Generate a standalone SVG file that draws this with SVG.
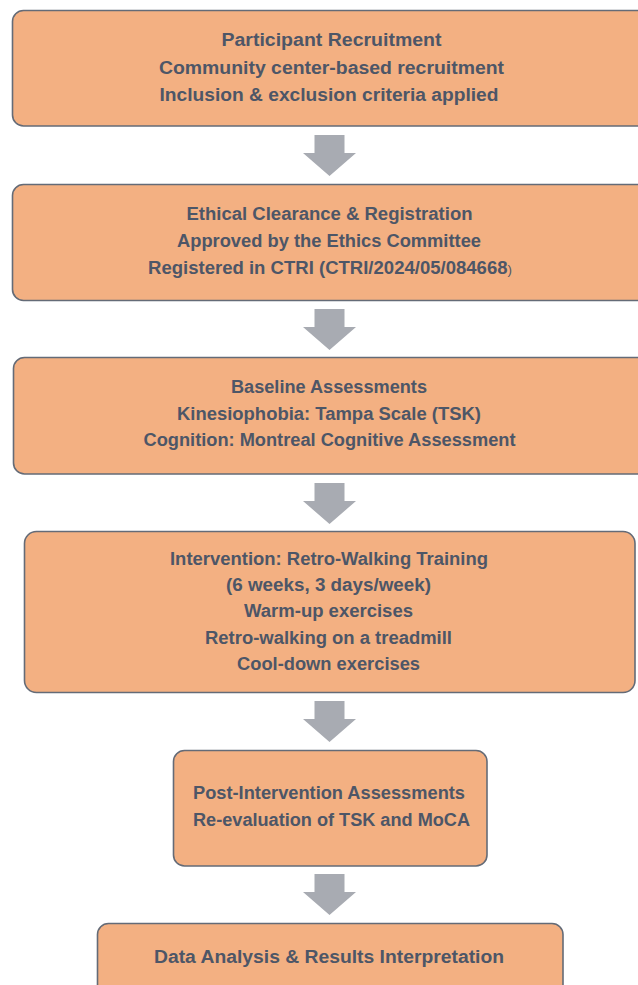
<svg xmlns="http://www.w3.org/2000/svg" width="638" height="985" viewBox="0 0 638 985">
  <style>
    .box { fill: #F3B082; stroke: #646B77; stroke-width: 1.6; }
    .lbl { font-family: "Liberation Sans", Arial, sans-serif; font-weight: bold; font-size: 18px; fill: #4D5667; text-anchor: middle; }
    .arrow { fill: #A8ABB2; }
  </style>
  <defs>
    <!-- block down-arrow, origin at top centre of the shaft -->
    <path id="down" d="M-15,0 H15 V18 H26.5 L0,41 L-26.5,18 H-15 Z"/>
  </defs>
  <rect width="638" height="985" fill="#FFFFFF"/>

  <g id="connectors" class="arrow">
    <use href="#down" x="329.5" y="135"/>
    <use href="#down" x="329.5" y="309"/>
    <use href="#down" x="329.5" y="483"/>
    <use href="#down" x="329.5" y="701"/>
    <use href="#down" x="329.5" y="874"/>
  </g>

  <g id="recruitment">
    <rect class="box" x="12.5" y="10.5" width="660" height="115.5" rx="11"/>
    <text class="lbl" x="331.5" y="46" textLength="220" lengthAdjust="spacingAndGlyphs">Participant Recruitment</text>
    <text class="lbl" x="331.5" y="73.5" textLength="345" lengthAdjust="spacingAndGlyphs">Community center-based recruitment</text>
    <text class="lbl" x="329" y="101" textLength="339" lengthAdjust="spacingAndGlyphs">Inclusion &amp; exclusion criteria applied</text>
  </g>

  <g id="ethics">
    <rect class="box" x="12.5" y="184.5" width="660" height="116" rx="11"/>
    <text class="lbl" x="329.5" y="220" textLength="286" lengthAdjust="spacingAndGlyphs">Ethical Clearance &amp; Registration</text>
    <text class="lbl" x="329" y="247" textLength="304" lengthAdjust="spacingAndGlyphs">Approved by the Ethics Committee</text>
    <text class="lbl" x="330" y="273.5" textLength="364" lengthAdjust="spacingAndGlyphs">Registered in CTRI (CTRI/2024/05/084668<tspan font-size="13px" font-weight="normal">)</tspan></text>
  </g>

  <g id="baseline">
    <rect class="box" x="13.5" y="357.5" width="660" height="116.5" rx="11"/>
    <text class="lbl" x="329" y="393" textLength="196" lengthAdjust="spacingAndGlyphs">Baseline Assessments</text>
    <text class="lbl" x="329" y="419.5" textLength="304" lengthAdjust="spacingAndGlyphs">Kinesiophobia: Tampa Scale (TSK)</text>
    <text class="lbl" x="329.5" y="446" textLength="372" lengthAdjust="spacingAndGlyphs">Cognition: Montreal Cognitive Assessment</text>
  </g>

  <g id="intervention">
    <rect class="box" x="24.5" y="531.5" width="610.5" height="161" rx="12"/>
    <text class="lbl" x="329" y="564.5" textLength="318" lengthAdjust="spacingAndGlyphs">Intervention: Retro-Walking Training</text>
    <text class="lbl" x="328.5" y="591" textLength="205" lengthAdjust="spacingAndGlyphs">(6 weeks, 3 days/week)</text>
    <text class="lbl" x="328.5" y="617" textLength="169" lengthAdjust="spacingAndGlyphs">Warm-up exercises</text>
    <text class="lbl" x="328.5" y="643.5" textLength="247" lengthAdjust="spacingAndGlyphs">Retro-walking on a treadmill</text>
    <text class="lbl" x="328.5" y="670" textLength="183" lengthAdjust="spacingAndGlyphs">Cool-down exercises</text>
  </g>

  <g id="post-assessment">
    <rect class="box" x="173.5" y="750.5" width="313.5" height="115.5" rx="11"/>
    <text class="lbl" x="329" y="799" textLength="272" lengthAdjust="spacingAndGlyphs">Post-Intervention Assessments</text>
    <text class="lbl" x="331.5" y="825.5" textLength="277" lengthAdjust="spacingAndGlyphs">Re-evaluation of TSK and MoCA</text>
  </g>

  <g id="analysis">
    <rect class="box" x="97.5" y="923.5" width="465.5" height="80" rx="11"/>
    <text class="lbl" x="329" y="962.5" textLength="350" lengthAdjust="spacingAndGlyphs">Data Analysis &amp; Results Interpretation</text>
  </g>
</svg>
